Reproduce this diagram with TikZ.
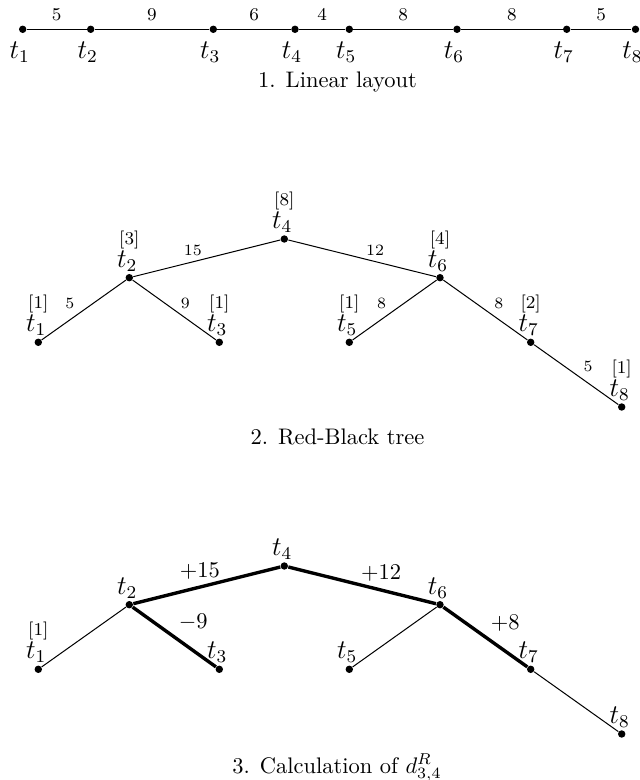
\documentclass[tikz,border=0pt]{standalone}
\usetikzlibrary{calc}
\tikzset{
  vtx/.style={circle, fill=black, inner sep=0pt, minimum size=3.3pt},
  tname/.style={anchor=base, inner sep=0pt, font=\large},
  rank/.style={anchor=base, inner sep=0pt, font=\footnotesize},
  wtop/.style={inner sep=0pt, font=\footnotesize},
  wtree/.style={inner sep=0pt, font=\scriptsize},
  wcalc/.style={inner sep=0pt, font=\normalsize},
  caption/.style={anchor=base, inner sep=0pt, font=\normalsize},
  seg/.style={line width=0.5pt},
  edge/.style={line width=0.45pt},
  heavy/.style={line width=1.5pt},
}
\begin{document}
\begin{tikzpicture}[x=0.4444pt, y=-0.4444pt]
\useasboundingbox (0,0) rectangle (639,780);

% ---- 1. linear layout ----
\foreach \i/\x in {1/22.7, 2/90.7, 3/213.3, 4/295, 5/349.3, 6/457, 7/566.7, 8/635.5}{
  \node[vtx] (a\i) at (\x,29.3) {};
  \node[tname] (la\i) at ($(a\i)+(-3,29)$) {$t_{\i}$};
}
\foreach \i/\j/\w in {1/2/5, 2/3/9, 3/4/6, 4/5/4, 5/6/8, 6/7/8, 7/8/5}{
  \draw[seg] (a\i) -- node[wtop, shift={(0,-15)}] (wa\i) {\w} (a\j);
}
\node[caption] (cap1) at (337.5,88) {1. Linear layout};

% ---- 2. red-black tree ----
\node[vtx] (b1) at (38.3,342.3) {};
\node[vtx] (b2) at (129.3,277.7) {};
\node[vtx] (b3) at (219.3,342.3) {};
\node[vtx] (b4) at (284.3,239) {};
\node[vtx] (b5) at (349.3,342.3) {};
\node[vtx] (b6) at (440,277.7) {};
\node[vtx] (b7) at (530.7,342.3) {};
\node[vtx] (b8) at (621.7,407) {};
\foreach \i/\r in {1/1, 2/3, 3/1, 4/8, 5/1, 6/4, 7/2, 8/1}{
  \node[tname] (lb\i) at ($(b\i)+(-2,-10.5)$) {$t_{\i}$};
  \node[rank] (rb\i) at ($(b\i)+(0,-33.5)$) {[\r]};
}
\draw[edge] (b2) -- node[wtree, shift={(-14,-7.5)}] (wb24) {15} (b4);
\draw[edge] (b4) -- node[wtree, shift={(13,-8)}] (wb46) {12} (b6);
\draw[edge] (b1) -- node[wtree, shift={(-14,-7)}] (wb12) {5} (b2);
\draw[edge] (b2) -- node[wtree, shift={(11,-7)}] (wb23) {9} (b3);
\draw[edge] (b5) -- node[wtree, shift={(-13,-7)}] (wb56) {8} (b6);
\draw[edge] (b6) -- node[wtree, shift={(13.5,-7)}] (wb67) {8} (b7);
\draw[edge] (b7) -- node[wtree, shift={(12,-8)}] (wb78) {5} (b8);
\node[caption] (cap2) at (337.5,445) {2. Red-Black tree};

% ---- 3. calculation ----
\node[vtx] (c1) at (38.3,669.3) {};
\node[vtx] (c2) at (129.3,604.7) {};
\node[vtx] (c3) at (219.3,669.3) {};
\node[vtx] (c4) at (284.3,566) {};
\node[vtx] (c5) at (349.3,669.3) {};
\node[vtx] (c6) at (440,604.7) {};
\node[vtx] (c7) at (530.7,669.3) {};
\node[vtx] (c8) at (621.7,734) {};
\foreach \i in {1,...,8}{
  \node[tname] (lc\i) at ($(c\i)+(-2,-10.5)$) {$t_{\i}$};
}
\node[rank] (rc1) at ($(c1)+(0,-33.5)$) {[1]};
\draw[edge] (c1) -- (c2);
\draw[edge] (c5) -- (c6);
\draw[edge] (c7) -- (c8);
\draw[heavy] (c2) -- node[wcalc, shift={(-7,-14)}] (wc24) {$+15$} (c4);
\draw[heavy] (c4) -- node[wcalc, shift={(19,-12.5)}] (wc46) {$+12$} (c6);
\draw[heavy] (c2) -- node[wcalc, shift={(19,-14.5)}] (wc23) {$-9$} (c3);
\draw[heavy] (c6) -- node[wcalc, shift={(20,-13.5)}] (wc67) {$+8$} (c7);
\node[caption] (cap3) at (337,773) {3. Calculation of $d^R_{3,4}$};
\end{tikzpicture}
\end{document}
